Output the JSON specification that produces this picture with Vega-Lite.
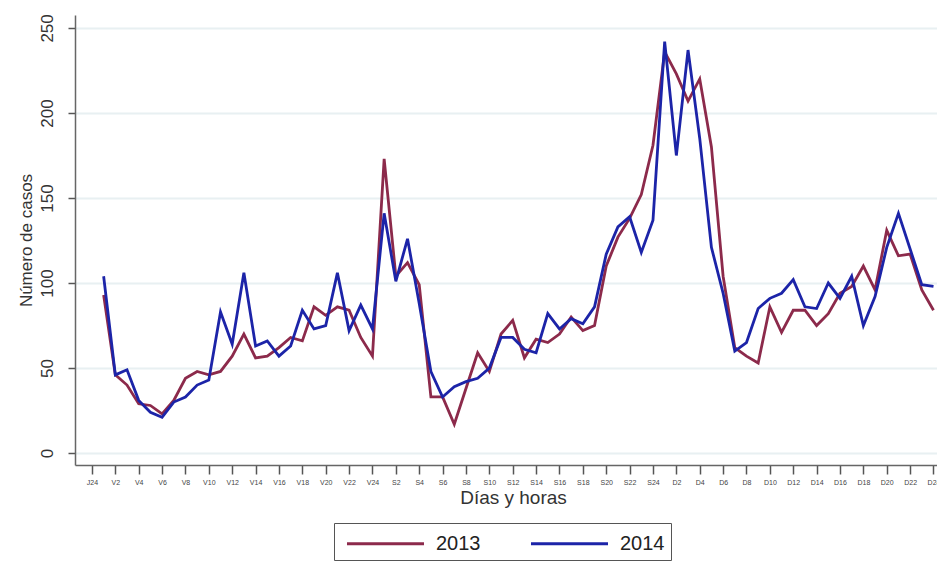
{
  "$schema": "https://vega.github.io/schema/vega-lite/v6.json",
  "width": 862,
  "height": 450,
  "autosize": {"type": "none"},
  "padding": {"left": 75, "top": 15, "right": 0, "bottom": 96},
  "background": "white",
  "config": {"view": {"stroke": null}, "font": "Liberation Sans"},
  "data": {"values": [
    {"hora":1,"año":"2013","casos":93},{"hora":2,"año":"2013","casos":46},{"hora":3,"año":"2013","casos":40},{"hora":4,"año":"2013","casos":29},{"hora":5,"año":"2013","casos":28},{"hora":6,"año":"2013","casos":23},{"hora":7,"año":"2013","casos":31},{"hora":8,"año":"2013","casos":44},{"hora":9,"año":"2013","casos":48},{"hora":10,"año":"2013","casos":46},{"hora":11,"año":"2013","casos":48},{"hora":12,"año":"2013","casos":57},{"hora":13,"año":"2013","casos":70},{"hora":14,"año":"2013","casos":56},{"hora":15,"año":"2013","casos":57},{"hora":16,"año":"2013","casos":62},{"hora":17,"año":"2013","casos":68},{"hora":18,"año":"2013","casos":66},{"hora":19,"año":"2013","casos":86},{"hora":20,"año":"2013","casos":81},{"hora":21,"año":"2013","casos":86},{"hora":22,"año":"2013","casos":84},{"hora":23,"año":"2013","casos":68},{"hora":24,"año":"2013","casos":57},
    {"hora":25,"año":"2013","casos":173},{"hora":26,"año":"2013","casos":104},{"hora":27,"año":"2013","casos":112},{"hora":28,"año":"2013","casos":99},{"hora":29,"año":"2013","casos":33},{"hora":30,"año":"2013","casos":33},{"hora":31,"año":"2013","casos":17},{"hora":32,"año":"2013","casos":38},{"hora":33,"año":"2013","casos":59},{"hora":34,"año":"2013","casos":48},{"hora":35,"año":"2013","casos":70},{"hora":36,"año":"2013","casos":78},{"hora":37,"año":"2013","casos":56},{"hora":38,"año":"2013","casos":67},{"hora":39,"año":"2013","casos":65},{"hora":40,"año":"2013","casos":70},{"hora":41,"año":"2013","casos":80},{"hora":42,"año":"2013","casos":72},{"hora":43,"año":"2013","casos":75},{"hora":44,"año":"2013","casos":110},{"hora":45,"año":"2013","casos":127},{"hora":46,"año":"2013","casos":138},{"hora":47,"año":"2013","casos":152},{"hora":48,"año":"2013","casos":181},
    {"hora":49,"año":"2013","casos":236},{"hora":50,"año":"2013","casos":223},{"hora":51,"año":"2013","casos":207},{"hora":52,"año":"2013","casos":220},{"hora":53,"año":"2013","casos":180},{"hora":54,"año":"2013","casos":104},{"hora":55,"año":"2013","casos":62},{"hora":56,"año":"2013","casos":57},{"hora":57,"año":"2013","casos":53},{"hora":58,"año":"2013","casos":86},{"hora":59,"año":"2013","casos":71},{"hora":60,"año":"2013","casos":84},{"hora":61,"año":"2013","casos":84},{"hora":62,"año":"2013","casos":75},{"hora":63,"año":"2013","casos":82},{"hora":64,"año":"2013","casos":94},{"hora":65,"año":"2013","casos":98},{"hora":66,"año":"2013","casos":110},{"hora":67,"año":"2013","casos":96},{"hora":68,"año":"2013","casos":131},{"hora":69,"año":"2013","casos":116},{"hora":70,"año":"2013","casos":117},{"hora":71,"año":"2013","casos":96},{"hora":72,"año":"2013","casos":84},
    {"hora":1,"año":"2014","casos":104},{"hora":2,"año":"2014","casos":46},{"hora":3,"año":"2014","casos":49},{"hora":4,"año":"2014","casos":31},{"hora":5,"año":"2014","casos":24},{"hora":6,"año":"2014","casos":21},{"hora":7,"año":"2014","casos":30},{"hora":8,"año":"2014","casos":33},{"hora":9,"año":"2014","casos":40},{"hora":10,"año":"2014","casos":43},{"hora":11,"año":"2014","casos":83},{"hora":12,"año":"2014","casos":64},{"hora":13,"año":"2014","casos":106},{"hora":14,"año":"2014","casos":63},{"hora":15,"año":"2014","casos":66},{"hora":16,"año":"2014","casos":57},{"hora":17,"año":"2014","casos":63},{"hora":18,"año":"2014","casos":84},{"hora":19,"año":"2014","casos":73},{"hora":20,"año":"2014","casos":75},{"hora":21,"año":"2014","casos":106},{"hora":22,"año":"2014","casos":72},{"hora":23,"año":"2014","casos":87},{"hora":24,"año":"2014","casos":73},
    {"hora":25,"año":"2014","casos":141},{"hora":26,"año":"2014","casos":101},{"hora":27,"año":"2014","casos":126},{"hora":28,"año":"2014","casos":88},{"hora":29,"año":"2014","casos":48},{"hora":30,"año":"2014","casos":33},{"hora":31,"año":"2014","casos":39},{"hora":32,"año":"2014","casos":42},{"hora":33,"año":"2014","casos":44},{"hora":34,"año":"2014","casos":50},{"hora":35,"año":"2014","casos":68},{"hora":36,"año":"2014","casos":68},{"hora":37,"año":"2014","casos":61},{"hora":38,"año":"2014","casos":59},{"hora":39,"año":"2014","casos":82},{"hora":40,"año":"2014","casos":73},{"hora":41,"año":"2014","casos":79},{"hora":42,"año":"2014","casos":76},{"hora":43,"año":"2014","casos":86},{"hora":44,"año":"2014","casos":117},{"hora":45,"año":"2014","casos":133},{"hora":46,"año":"2014","casos":139},{"hora":47,"año":"2014","casos":118},{"hora":48,"año":"2014","casos":137},
    {"hora":49,"año":"2014","casos":242},{"hora":50,"año":"2014","casos":175},{"hora":51,"año":"2014","casos":237},{"hora":52,"año":"2014","casos":185},{"hora":53,"año":"2014","casos":121},{"hora":54,"año":"2014","casos":94},{"hora":55,"año":"2014","casos":60},{"hora":56,"año":"2014","casos":65},{"hora":57,"año":"2014","casos":85},{"hora":58,"año":"2014","casos":91},{"hora":59,"año":"2014","casos":94},{"hora":60,"año":"2014","casos":102},{"hora":61,"año":"2014","casos":86},{"hora":62,"año":"2014","casos":85},{"hora":63,"año":"2014","casos":100},{"hora":64,"año":"2014","casos":91},{"hora":65,"año":"2014","casos":104},{"hora":66,"año":"2014","casos":75},{"hora":67,"año":"2014","casos":92},{"hora":68,"año":"2014","casos":121},{"hora":69,"año":"2014","casos":141},{"hora":70,"año":"2014","casos":120},{"hora":71,"año":"2014","casos":99},{"hora":72,"año":"2014","casos":98}
  ]},
  "mark": {"type": "line", "strokeWidth": 2.8, "clip": true},
  "encoding": {
    "x": {
      "field": "hora", "type": "quantitative",
      "scale": {"domain": [-1.45, 72.3], "nice": false, "zero": false},
      "axis": {
        "values": [0,2,4,6,8,10,12,14,16,18,20,22,24,26,28,30,32,34,36,38,40,42,44,46,48,50,52,54,56,58,60,62,64,66,68,70,72],
        "labelExpr": "datum.value == 0 ? 'J24' : datum.value <= 24 ? 'V' + datum.value : datum.value <= 48 ? 'S' + (datum.value - 24) : 'D' + (datum.value - 48)",
        "title": "Días y horas", "grid": false,
        "labelFontSize": 7, "labelColor": "#444", "labelPadding": 4,
        "tickSize": 9, "tickColor": "#555", "tickWidth": 1.5,
        "domainColor": "#666", "domainWidth": 1.5,
        "titleFontSize": 19, "titleFontWeight": "normal", "titleColor": "#333",
        "titlePadding": 3, "titleX": 438
      }
    },
    "y": {
      "field": "casos", "type": "quantitative",
      "scale": {"domain": [-7, 257.6], "nice": false, "zero": false},
      "axis": {
        "values": [0,50,100,150,200,250],
        "labelAngle": -90, "labelAlign": "center", "labelBaseline": "bottom",
        "labelFontSize": 17, "labelColor": "#333", "labelPadding": 12,
        "tickSize": 7, "tickColor": "#555", "tickWidth": 1.5,
        "domainColor": "#666", "domainWidth": 1.5,
        "grid": true, "gridColor": "#e8f0f2", "gridWidth": 2,
        "title": "Número de casos", "titleFontSize": 17, "titleFontWeight": "normal", "titleColor": "#333",
        "titlePadding": 3
      }
    },
    "color": {
      "field": "año", "type": "nominal",
      "scale": {"domain": ["2013", "2014"], "range": ["#8c2a4b", "#1c24a8"]},
      "legend": {
        "orient": "none", "legendX": 259, "legendY": 508, "direction": "horizontal",
        "title": null, "symbolType": "M-3,0H3", "symbolSize": 659, "symbolStrokeWidth": 3,
        "symbolOffset": 31,
        "labelExpr": "datum.label + '\u2003\u2003'",
        "labelFontSize": 20, "labelColor": "#222", "labelOffset": 36, "columnPadding": 43,
        "strokeColor": "#555", "padding": 6
      }
    }
  }
}
